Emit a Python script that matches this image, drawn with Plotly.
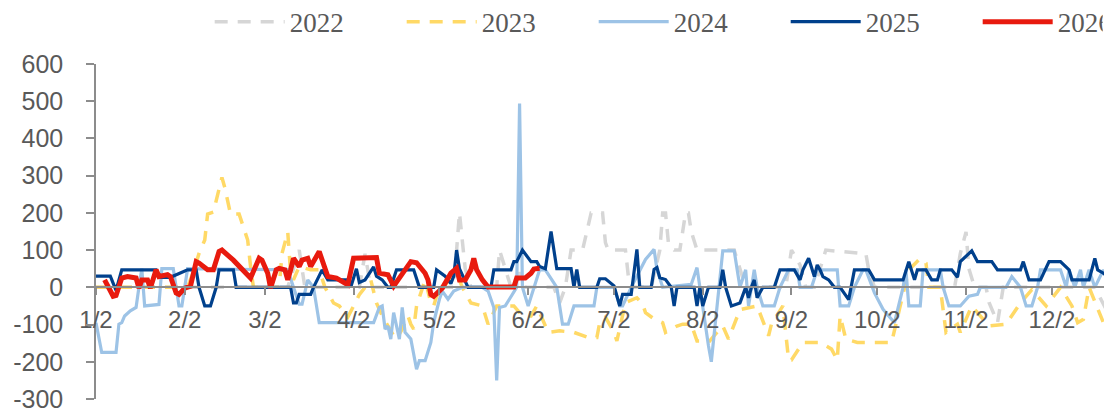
import numpy as np
import pandas as pd
import plotly.graph_objects as go

# x values are day-of-year (1 = Jan 1), plotted on a common calendar year
BASE = "2025-01-01"

years = ["2022", "2023", "2024", "2025", "2026"]

d2022 = [2, 69, 73, 75, 94, 96, 98, 127, 129, 131, 133, 142, 143, 145, 147, 148, 150, 152,
         162, 164, 166, 168, 172, 175, 179, 180, 181, 187, 188, 190, 196, 199, 200, 201, 202,
         204, 206, 207, 208, 209, 210, 212, 220, 222, 225, 227, 229, 243, 245, 248, 250, 253,
         257, 271, 272, 274, 302, 304, 306, 307, 309, 313, 314, 317, 318, 319, 351, 353, 355, 357]
v2022 = [0, 0, 100, 0, 0, 90, 0, 0, 200, 50, 0, 0, 100, 50, 0, 0, 40, 0,
         0, -42, 0, 100, 100, 200, 200, 120, 100, 100, 30, 0, 0, 100, 200, 200, 120,
         100, 100, 150, 200, 200, 150, 100, 100, 100, 100, 50, 0, 0, 100, 60, 0, 0,
         100, 90, 47, 0, 0, 91, 149, 50, 0, 0, -40, -95, -50, 0, 0, -30, -60, -40]

d2023 = [2, 34, 36, 38, 40, 41, 43, 45, 46, 47, 48, 49, 52, 53, 55, 56, 57, 66, 67, 69, 70, 71,
         73, 77, 80, 82, 85, 87, 90, 92, 94, 96, 98, 100, 102, 106, 107, 109, 111, 112, 113,
         114, 115, 117, 119, 120, 121, 123, 128, 130, 133, 137, 139, 142, 148, 151, 154, 156,
         160, 164, 169, 174, 177, 178, 180, 183, 184, 186, 187, 191, 193, 194, 197, 200, 201,
         205, 207, 210, 212, 214, 216, 220, 221, 223, 227, 233, 237, 238, 242, 244, 245, 249,
         255, 259, 261, 262, 264, 268, 280, 283, 286, 290, 292, 293, 297, 299, 303, 304, 308,
         314, 320, 325, 329, 334, 339, 343, 345, 347, 349, 354, 356, 357]
v2023 = [0, 0, 42, 91, 127, 197, 202, 264, 295, 268, 233, 197, 197, 175, 127, 56, 0, 0, 91, 149, 38, 20,
         56, 47, 47, 0, -42, -50, -80, -50, -20, 0, 20, -42, -77, -130, -139, -112, -77, -99, -112,
         -50, -24, 20, -42, -50, -24, 0, 38, 0, -42, -50, -99, -50, -50, -77, -77, -50,
         -121, -117, -121, -135, -135, -95, -80, -121, -144, -80, -41, -28, -45, -68, -85, -95, -121,
         -104, -99, -99, -144, -144, -148, -112, -104, -139, -60, -50, -130, -99, -50, -195, -195, -148,
         -148, -166, -195, -77, -139, -148, -148, -50, 47, 78, 65, 0, 0, -121, -99, -121, -50,
         -104, -99, -42, -6, -50, 0, -50, -95, -86, 0, -95, -130, -130]

d2024 = [2, 4, 9, 10, 11, 12, 14, 16, 17, 18, 19, 24, 25, 29, 31, 32, 34, 69, 71, 73, 74, 76, 78,
         80, 99, 101, 102, 103, 104, 105, 106, 108, 109, 110, 112, 114, 115, 117, 119, 120, 122,
         123, 125, 127, 130, 137, 139, 141, 142, 143, 145, 149, 150, 151, 153, 155, 157, 159, 163,
         165, 167, 169, 176, 177, 183, 185, 186, 189, 194, 197, 198, 200, 210, 212, 214, 215, 216,
         217, 219, 221, 225, 226, 227, 229, 230, 232, 233, 235, 239, 241, 244, 247, 248, 252, 254,
         261, 262, 265, 267, 270, 271, 274, 277, 281, 284, 285, 286, 290, 291, 297, 298, 300, 304,
         307, 310, 311, 320, 322, 325, 327, 329, 331, 332, 339, 341, 342, 344, 346, 347, 349, 351,
         354, 357]
v2024 = [-95, -175, -175, -99, -95, -77, -63, -54, 0, 50, -50, -46, 50, 50, -50, -50, 50, 47, 0, -45, -45, 20, 0,
         -95, -95, -54, -50, -112, -104, -139, -68, -139, -54, -121, -139, -220, -197, -197, -148, -94, -32,
         -10, -32, -10, 0, 0, -10, -54, -250, -54, -50, 0, 494, 0, -50, 0, 47, 47, 0,
         -99, -99, -50, -50, 0, 0, -50, -50, 0, 75, 102, 48, 0, 8, 53, -50, -112, -157,
         -200, -50, 98, 98, 47, 0, 47, -50, 47, 0, -50, -50, 0, 47, 47, 0, 0, 47,
         47, -50, -50, 0, 47, 47, -15, -59, -95, 0, 47, -50, -50, 47, 47, 0, -50, -50,
         -24, -19, 0, 0, 29, 0, -50, -50, 0, 47, 47, 0, 47, 0, 47, 0, 47, 0,
         47, 0]

d2025 = [2, 7, 9, 11, 23, 24, 28, 34, 37, 38, 40, 42, 44, 45, 50, 51, 70, 71, 72, 73, 77, 78, 81, 83,
         90, 91, 93, 94, 96, 99, 100, 102, 104, 105, 107, 113, 115, 120, 121, 124, 126, 127, 128,
         129, 132, 140, 141, 147, 148, 149, 151, 154, 156, 157, 159, 161, 163, 168, 169, 170, 171,
         177, 178, 180, 183, 185, 186, 189, 191, 192, 196, 197, 198, 199, 201, 203, 204, 205, 211,
         212, 213, 214, 216, 220, 221, 222, 224, 227, 229, 230, 231, 232, 233, 235, 239, 241, 246,
         248, 249, 251, 253, 254, 255, 256, 258, 260, 262, 265, 267, 272, 274, 284, 286, 288, 289,
         292, 294, 296, 297, 301, 303, 304, 308, 310, 315, 317, 325, 326, 328, 332, 335, 339, 342,
         343, 349, 351, 352, 354, 357]
v2025 = [30, 30, -8, 47, 47, 27, 27, 47, 47, 0, -50, -50, 0, 47, 47, 0, 0, -42, -42, -19, -19, 0, 47, 20,
         20, 0, 50, 13, 20, 55, 30, 20, 0, 0, 47, 47, 0, 0, 47, 30, 10, 30, 100,
         50, 0, 0, 47, 47, 69, 69, 100, 69, 69, 56, 50, 150, 50, 50, 0, 48, 0,
         0, 23, 23, 4, -50, -19, -19, 102, 0, 0, 48, 53, 26, 21, 0, -50, 0, 0,
         -50, 0, -50, 0, 0, 47, 0, -50, -42, 0, -28, 0, 20, -28, 0, 0, 47, 47,
         20, 47, 78, 29, 60, 47, 29, 20, 0, 0, -33, 47, 47, 20, 20, 69, 20, 47,
         47, 20, 20, 47, 47, 27, 69, 98, 69, 69, 47, 47, 69, 20, 20, 69, 69, 47,
         20, 20, 78, 47, 38, 20]

d2026 = [5, 8, 9, 11, 13, 16, 17, 18, 20, 21, 23, 24, 27, 28, 30, 31, 33, 35, 37, 38, 41, 43, 45,
         46, 50, 56, 59, 60, 62, 63, 65, 66, 68, 69, 70, 71, 73, 74, 76, 77, 80, 82, 83, 86, 90,
         92, 98, 100, 101, 104, 106, 108, 109, 111, 112, 114, 117, 118, 119, 120, 123, 126, 128,
         129, 131, 133, 134, 135, 137, 139, 148, 149, 152, 154, 155, 157]
v2026 = [20, -24, -22, 25, 29, 25, -2, 20, 20, -2, 47, 29, 34, 29, -15, -19, -2, 3, 69, 65, 47, 47, 96,
         100, 73, 25, 78, 73, 38, -2, 47, 51, 47, 20, 47, 78, 56, 73, 78, 56, 96, 47, 29, 25, 7,
         78, 80, 80, 38, 34, 3, 25, 38, 56, 69, 66, 38, 20, -19, -24, -2, 38, 51,
         20, 20, 47, 78, 47, 20, 1, 1, 25, 25, 38, 49, 51]

tick_days = [2, 33, 61, 92, 122, 153, 183, 214, 245, 275, 306, 336]
tick_text = ["1/2", "2/2", "3/2", "4/2", "5/2", "6/2", "7/2", "8/2", "9/2", "10/2", "11/2", "12/2"]
y_ticks = [-300, -200, -100, 0, 100, 200, 300, 400, 500, 600]
y_tick_text = ["-300", "-200", "-100", "0", "100", "200", "300", "400", "500", "600"]


def to_dates(doy):
    return pd.Timestamp(BASE) + pd.to_timedelta(np.asarray(doy) - 1, unit="D")


series = [
    (years[0], d2022, v2022, dict(color="#D6D6D6", width=3.5, dash="13px,10px"), 107),
    (years[1], d2023, v2023, dict(color="#FFD966", width=3.5, dash="13px,10px"), 107),
    (years[2], d2024, v2024, dict(color="#9DC3E6", width=3.2), 107),
    (years[3], d2025, v2025, dict(color="#00408C", width=3.2), 107),
    (years[4], d2026, v2026, dict(color="#E81A0E", width=5), 40),
]

fig = go.Figure()
for name, d, v, line, lw in series:
    fig.add_trace(go.Scatter(x=to_dates(d), y=v, mode="lines", name=name, line=line,
                             legendwidth=lw))

axis_gray = "#8C8C8C"
fig.update_layout(
    width=1104, height=401,
    margin=dict(l=88, r=0, t=56, b=10, autoexpand=False),
    paper_bgcolor="white", plot_bgcolor="white",
    showlegend=True,
    legend=dict(orientation="h", x=0.1119, xanchor="left", y=1.198, yanchor="top",
                font=dict(family="Liberation Serif", size=27, color="#595959"),
                itemwidth=70, bgcolor="rgba(0,0,0,0)"),
    xaxis=dict(type="date", range=[to_dates([2])[0], to_dates([357])[0]],
               anchor="free", position=1/3, showgrid=False, zeroline=False,
               showline=True, linecolor=axis_gray, linewidth=1.5,
               ticks="outside", ticklen=7, tickcolor=axis_gray, tickwidth=1.5,
               tickvals=to_dates(tick_days), ticktext=tick_text,
               ticklabelstandoff=4, automargin=False,
               tickfont=dict(family="Liberation Sans", size=24, color="#595959")),
    yaxis=dict(range=[-300, 600], domain=[0, 1], showgrid=False, zeroline=False,
               showline=True, linecolor=axis_gray, linewidth=1.5,
               ticks="outside", ticklen=8, tickcolor=axis_gray, tickwidth=1.5,
               tickvals=y_ticks, ticktext=y_tick_text, ticklabelstandoff=18,
               ticklabeloverflow="allow", automargin=False,
               tickfont=dict(family="Liberation Sans", size=25, color="#595959")),
)

fig.write_html("out.html")
